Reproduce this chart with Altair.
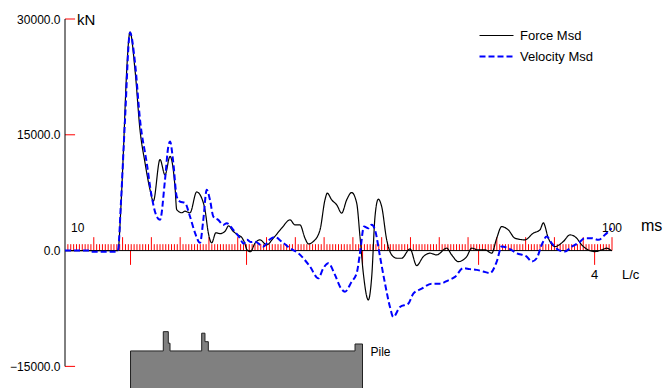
import altair as alt
import numpy as np
import pandas as pd

# Measured force (kN) against time (ms)
force_t = [5.0, 11.0, 14.2, 14.7, 15.13, 15.72, 16.29, 17.16, 18.03, 18.89, 19.76, 20.34,
           21.50, 22.37, 23.24, 24.10, 24.40, 25.27, 25.84, 26.71, 27.87, 28.74, 29.31,
           29.89, 30.48, 31.2, 31.9, 32.8, 33.4, 34.2, 35.1, 35.7, 36.2, 36.6, 37.2, 38.0,
           38.87, 40.03, 41.18, 42.63, 44.08, 44.94, 45.81, 46.68, 47.26, 48.12, 49.29,
           50.15, 50.55, 51.32, 52.19, 53.05, 53.92, 54.79, 55.66, 56.23, 56.81, 57.68,
           58.27, 58.84, 59.41, 60.00, 60.87, 61.74, 62.61, 63.47, 64.92, 66.08, 67.23,
           68.39, 69.55, 71.29, 72.16, 73.31, 74.76, 75.63, 76.78, 77.94, 79.11, 79.98,
           80.84, 81.99, 83.15, 84.88, 86.33, 87.49, 88.07, 88.94, 90.10, 91.54, 92.70,
           93.86, 94.73, 95.88, 97.05, 98.21, 99.08, 99.94]
force_kn = [0, 0, 0, 5500, 12600, 23400, 28300, 23400, 15600, 11400, 7900, 6400,
            11800, 9800, 12200, 8300, 5300, 4900, 5100, 4900, 7600, 6800, 5300,
            2300, 1000, 2300, 2200, 2500, 3200, 2500, 2000, 1700, 1000, 100, -150, 960,
            1390, 740, 1610, 2900, 3980, 3330, 3330, 1610, 870, 1170, 2680,
            6570, 7440, 6570, 5930, 4850, 6570, 7520, 6150, 1820, -2930, -6390,
            -3370, 4410, 6660, 5700, 1390, -560, -990, -990, 220, -1940, -780,
            -340, -560, 310, -560, -1430, -780, 310, 90, 90, -340, 1610,
            3110, 2680, 1610, 1390, 2260, 2680, 3590, 1610, 520, 1170, 2040,
            1610, 740, 90, -130, 90, 310, -40]

# Measured velocity, scaled to force units (kN)
vel_t = [5.0, 9.3, 9.6, 13.5, 14.2, 14.7, 15.42, 16.29, 17.16, 18.03, 19.19, 20.06,
         20.93, 21.50, 22.37, 22.94, 23.24, 23.81, 24.40, 24.97, 25.84, 26.71, 27.58,
         28.45, 29.02, 29.61, 30.18, 30.76, 31.62, 32.49, 33.08, 34.23, 35.39, 36.0,
         36.6, 37.3, 38.0, 39.44, 40.6, 41.47, 42.63, 44.08, 45.52, 47.55, 48.99,
         49.86, 50.73, 51.89, 52.76, 53.63, 54.79, 55.66, 56.23, 56.93, 57.68, 58.27,
         58.84, 59.71, 60.58, 61.44, 62.02, 63.18, 64.62, 65.49, 66.95, 68.69, 70.13,
         71.57, 72.73, 74.17, 75.3, 76.49, 77.6, 78.81, 79.98, 80.84, 81.99, 83.45,
         85.18, 86.05, 86.92, 87.79, 88.66, 89.52, 90.68, 91.84, 93.0, 94.14, 95.31,
         96.46, 97.62, 98.78, 99.94]
vel_kn = [0, 0, -150, -150, 0, 6000, 16940, 28260, 24340, 16940, 11370, 7000,
          4410, 3980, 9170, 13480, 14130, 11370, 7000, 6350, 6180, 4410, 2300,
          1000, 3980, 7870, 6570, 4410, 3980, 3330, 3550, 2680, 1600, 900,
          1400, 1100, 1160, 520, 1470, 1740, 1170, 310, -340, -2070, -3590,
          -2290, -1640, -3150, -4670, -5320, -4020, -2930, -340, 3110, 2900, 3340,
          2680, -780, -4280, -7300, -8600, -7300, -6870, -5580, -4930, -4280, -4280,
          -3850, -3410, -2280, -2400, -2500, -2700, -2930, -1430, 520, 310, -340,
          -780, -1430, -990, 740, 1820, 960, 90, -130, 520, 960, 1610,
          1610, 1390, 2040, 2900]

SERIES = ["Force Msd", "Velocity Msd"]

# Time window, force window and wave-travel markers
T_START, T_END = 5.0, 100.0
KN_MIN, KN_MAX = -17800, 30000
Y_TICKS = [-15000, 0, 15000, 30000]
IMPACT_T = 16.38      # L/c = 0
LC_MS = 20.15         # one L/c in ms
LC_COUNT = 4

# Pile impedance profile drawn under the record (spans 0 .. 2L/c)
pile_t = [16.38, 22.07, 22.94, 23.24, 28.74, 29.31, 29.89, 55.37, 56.67]
pile_top = [-13000, -10500, -12000, -13000, -10700, -11800, -13000, -12100, -12100]
PILE_BASE = -19000

RED = "#ff0000"
FONT = "Liberation Sans, Arial"

x_scale = alt.Scale(domain=[T_START, T_END], nice=False, zero=False)
y_scale = alt.Scale(domain=[KN_MIN, KN_MAX], nice=False, zero=False)
y_axis = alt.Axis(values=Y_TICKS, format=".1f", domain=False, ticks=False, grid=False,
                  labelPadding=5, labelFont=FONT, labelFontSize=12, labelColor="black",
                  labelOverlap=False, title=None)


def xq(field):
    return alt.X(field, type="quantitative", scale=x_scale, axis=None)


def yq(field):
    return alt.Y(field, type="quantitative", scale=y_scale, axis=y_axis)


# --- pile sketch
pile_df = pd.DataFrame({"t": pile_t, "top": pile_top, "base": PILE_BASE})
pile = alt.Chart(pile_df).mark_area(
    interpolate="step-after", color="#808080", stroke="#222222", strokeWidth=1, clip=True
).encode(x=xq("t"), y=yq("top"), y2="base")

# --- time ticks along the zero line
minor_t = [t for t in np.arange(5.5, 100.01, 0.5) if abs(t / 5 - round(t / 5)) > 1e-6]
major_t = list(np.arange(10.0, 100.01, 5.0))
minor_df = pd.DataFrame({"t": minor_t, "a": 0, "b": 830})
major_df = pd.DataFrame({"t": major_t, "a": 0, "b": 1740})
lc_df = pd.DataFrame({"t": [IMPACT_T + k * LC_MS for k in range(LC_COUNT + 1)], "a": 0, "b": -1850})

minor_ticks = alt.Chart(minor_df).mark_rule(color=RED, strokeWidth=1).encode(
    x=xq("t"), y=yq("a"), y2="b")
major_ticks = alt.Chart(major_df).mark_rule(color=RED, strokeWidth=1).encode(
    x=xq("t"), y=yq("a"), y2="b")
lc_ticks = alt.Chart(lc_df).mark_rule(color=RED, strokeWidth=1).encode(
    x=xq("t"), y=yq("a"), y2="b")

# --- force ticks pointing into the plot
ytick_df = pd.DataFrame({"kN": Y_TICKS, "t0": T_START, "t1": T_START + 1.75})
y_ticks = alt.Chart(ytick_df).mark_rule(color=RED, strokeWidth=1).encode(
    x=xq("t0"), x2="t1", y=yq("kN"))

# --- axis lines
vaxis = alt.Chart(pd.DataFrame({"t": [T_START], "a": [Y_TICKS[0]], "b": [Y_TICKS[-1]]})).mark_rule(
    color="black", strokeWidth=1).encode(x=xq("t"), y=yq("a"), y2="b")
haxis = alt.Chart(pd.DataFrame({"t0": [T_START], "t1": [T_END], "kN": [0]})).mark_rule(
    color="black", strokeWidth=1).encode(x=xq("t0"), x2="t1", y=yq("kN"))

# --- measured records
lines_df = pd.DataFrame({
    "t": force_t + vel_t,
    "kN": force_kn + vel_kn,
    "series": [SERIES[0]] * len(force_t) + [SERIES[1]] * len(vel_t),
})
# a flat, wide stroke symbol keeps each legend row short
legend = alt.Legend(title=None, orient="none", legendX=422, legendY=7,
                    symbolType="M-2,0H2", symbolSize=289,
                    labelFont=FONT, labelFontSize=13, labelColor="black",
                    labelOffset=14, rowPadding=4, padding=0)
records = alt.Chart(lines_df).mark_line(interpolate="monotone", clip=True).encode(
    x=xq("t"),
    y=yq("kN"),
    color=alt.Color("series:N", scale=alt.Scale(domain=SERIES, range=["#000000", "#0000ff"]),
                    legend=legend),
    strokeDash=alt.StrokeDash("series:N", scale=alt.Scale(domain=SERIES, range=[[1, 0], [6, 3]]),
                              legend=legend),
    strokeWidth=alt.StrokeWidth("series:N", scale=alt.Scale(domain=SERIES, range=[1.2, 2.0]),
                                legend=legend),
)


# --- annotations
def label(text, t, kn, size, align, dx, dy):
    df = pd.DataFrame({"t": [t], "kN": [kn], "txt": [text]})
    return alt.Chart(df).mark_text(
        align=align, baseline="alphabetic", fontSize=size, font=FONT, color="black",
        dx=dx, dy=dy
    ).encode(x=xq("t"), y=yq("kN"), text="txt:N")


texts = [
    label("kN", T_START, Y_TICKS[-1], 15, "left", 12, 6),
    label("10", T_START, 0, 12, "left", 6, -19),
    label("100", T_END, 0, 12, "center", 0, -19),
    label("ms", T_END, 0, 16, "left", 29, -20),
    label("4", IMPACT_T + LC_COUNT * LC_MS, 0, 13, "center", 0, 28),
    label("L/c", T_END, 0, 13, "left", 10, 28),
    label("Pile", pile_t[-1], pile_top[-1], 12, "left", 8, 12),
]

chart = alt.layer(
    pile, minor_ticks, major_ticks, lc_ticks, y_ticks, vaxis, haxis, records, *texts
).properties(
    width=547, height=369,
    padding={"left": 65, "top": 19, "right": 52, "bottom": 0},
    autosize="none",
).configure_view(stroke=None)

chart.save("out.html", embed_options={"renderer": "svg", "actions": False})
